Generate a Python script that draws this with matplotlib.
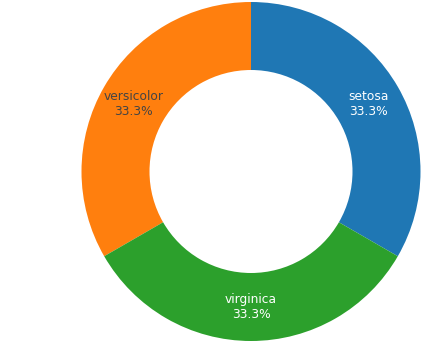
import matplotlib
matplotlib.use("Agg")
import matplotlib.pyplot as plt

species = ["setosa", "versicolor", "virginica"]
counts = [50, 50, 50]
colors = ["#1f77b4", "#ff7f0e", "#2ca02c"]
text_colors = ["white", "#444444", "white"]

W, H = 447, 352
fig = plt.figure(figsize=(W / 100, H / 100), dpi=100)
ax = fig.add_axes([0, 0, 1, 1])

cx, cy = 251, H - 171.5
R = 169.5
r_in = 101.5

lab_iter = iter(species)

def fmt(p):
    return f"{next(lab_iter)}\n{p:.1f}%"

wedges, texts, autotexts = ax.pie(
    counts,
    colors=colors,
    center=(cx, cy),
    radius=R,
    startangle=-30,
    counterclock=True,
    autopct=fmt,
    pctdistance=((R + r_in) / 2) / R,
    wedgeprops=dict(width=R - r_in, linewidth=0),
    textprops=dict(fontsize=8.8, family="DejaVu Sans", linespacing=1.25),
    frame=True,
)
ax.set_xlim(0, W)
ax.set_ylim(0, H)
ax.set_aspect("equal")
ax.axis("off")
for t, c in zip(autotexts, text_colors):
    t.set_color(c)
    t.set_ha("center")
    t.set_va("center")

fig.savefig("out.png", dpi=100)
